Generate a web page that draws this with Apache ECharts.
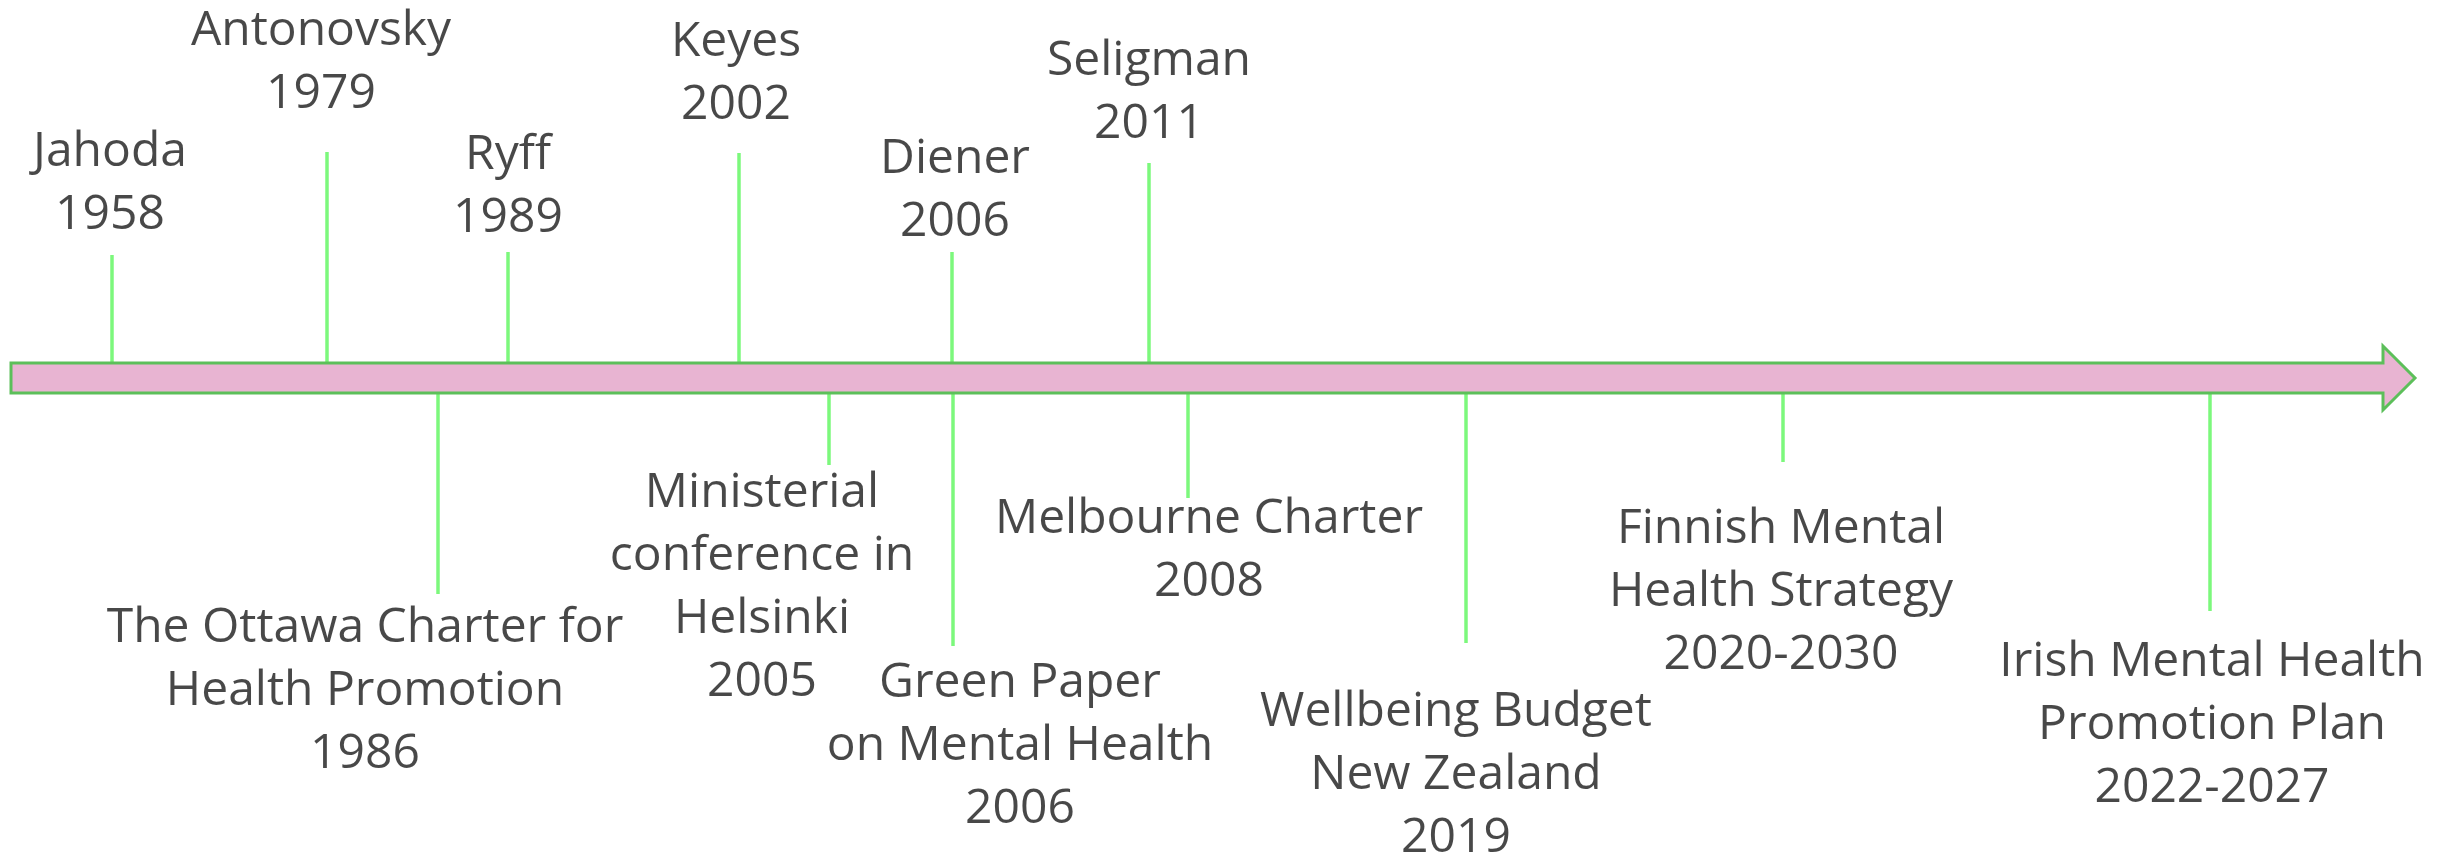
<!DOCTYPE html>
<html>
<head>
<meta charset="utf-8">
<script src="https://cdn.jsdelivr.net/npm/echarts@6/dist/echarts.min.js"></script>
<style>
  html, body { margin: 0; padding: 0; background: #fff; }
  #chart { width: 2442px; height: 858px; }
</style>
</head>
<body>
<div id="chart"></div>
<script>
// events above the arrow (authors)
var upNames = ['Jahoda\n1958', 'Antonovsky\n1979', 'Ryff\n1989', 'Keyes\n2002', 'Diener\n2006', 'Seligman\n2011'];
var upAt = [112, 327, 508, 739, 952, 1149];
var upLen = [123, 226, 126, 225, 126, 215];

// events below the arrow (policies)
var downNames = [
  'The Ottawa Charter for\nHealth Promotion\n1986',
  'Ministerial\nconference in\nHelsinki\n2005',
  'Green Paper\non Mental Health\n2006',
  'Melbourne Charter\n2008',
  'Wellbeing Budget\nNew Zealand\n2019',
  'Finnish Mental\nHealth Strategy\n2020-2030',
  'Irish Mental Health\nPromotion Plan\n2022-2027'
];
var downAt = [438, 829, 953, 1188, 1466, 1783, 2210];
var downLen = [-216, -87, -268, -120, -265, -84, -233];

// where each text block is centred
var upLabelX = [110, 321, 508, 736, 955, 1149];
var upLabelY = [194, 315, 191, 304, 187, 285];
var downLabelX = [365, 762, 1020, 1209, 1456, 1781, 2212];
var downLabelY = [-313, -210, -368, -173, -397, -214, -347];

// arrow shape
var arrowStart = 11, arrowHead = 2383, arrowTip = 2415;
var bodyHalf = 15, headHalf = 32;

var stems = [];
upAt.forEach(function (x, i) { stems.push([x, upLen[i]]); });
downAt.forEach(function (x, i) { stems.push([x, downLen[i]]); });

var labels = [];
upNames.forEach(function (n, i) { labels.push({ name: n, value: [upLabelX[i], upLabelY[i]] }); });
downNames.forEach(function (n, i) { labels.push({ name: n, value: [downLabelX[i], downLabelY[i]] }); });

var myChart = echarts.init(document.getElementById('chart'));
myChart.setOption({
  animation: false,
  grid: { left: 0, right: 0, top: 0, bottom: 0 },
  xAxis: { type: 'value', min: 0, max: 2442, show: false },
  yAxis: { type: 'value', min: -480, max: 378, show: false },
  series: [
    {
      type: 'custom',
      data: stems,
      renderItem: function (params, api) {
        var x = api.value(0), len = api.value(1);
        var edge = len > 0 ? bodyHalf : -bodyHalf;
        var p0 = api.coord([x, edge]);
        var p1 = api.coord([x, len]);
        return {
          type: 'line',
          shape: { x1: p0[0], y1: p0[1], x2: p1[0], y2: p1[1] },
          style: { stroke: '#7cf87c', lineWidth: 3.5 }
        };
      }
    },
    {
      type: 'custom',
      data: [[arrowStart, 0]],
      z: 3,
      renderItem: function (params, api) {
        var pts = [
          [arrowStart, bodyHalf], [arrowHead, bodyHalf], [arrowHead, headHalf],
          [arrowTip, 0], [arrowHead, -headHalf], [arrowHead, -bodyHalf], [arrowStart, -bodyHalf]
        ].map(function (p) { return api.coord(p); });
        return {
          type: 'polygon',
          shape: { points: pts },
          style: { fill: '#e8b4d2', stroke: '#5cbf5a', lineWidth: 3 }
        };
      }
    },
    {
      type: 'scatter',
      data: labels,
      symbolSize: 0,
      label: {
        show: true,
        position: 'inside',
        formatter: '{b}',
        color: '#1a1a1a',
        fontSize: 48,
        lineHeight: 63,
        fontFamily: 'Open Sans',
        align: 'center',
        verticalAlign: 'middle'
      }
    }
  ]
});
window.onresize = function () {
  myChart.resize();
};
</script>
</body>
</html>
